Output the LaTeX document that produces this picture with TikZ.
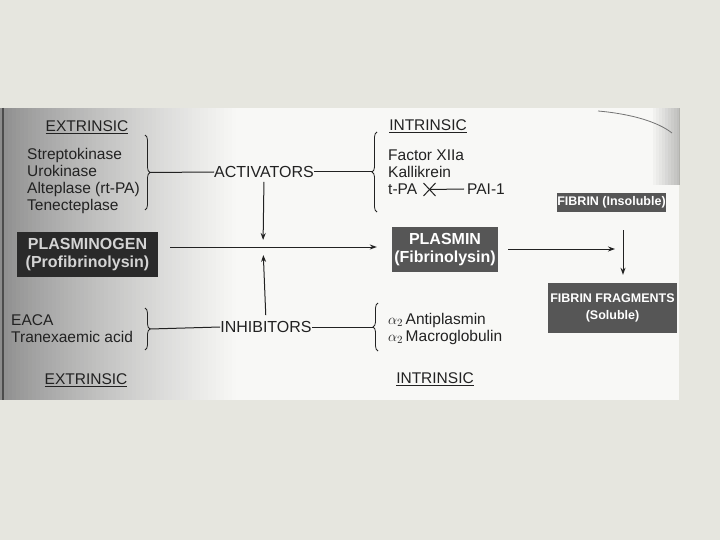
\documentclass[tikz,border=0pt]{standalone}
\usepackage{fontspec}
\setmainfont{Liberation Sans}
\usetikzlibrary{positioning, arrows.meta, calc, decorations.pathreplacing}
\definecolor{slidebg}{HTML}{E6E6DF}
\definecolor{paperw}{HTML}{F8F8F6}
\definecolor{photogray}{HTML}{8C8C8C}
\definecolor{inkgray}{HTML}{222222}
\definecolor{boxdark}{HTML}{2A2A2A}
\definecolor{boxgray}{HTML}{565656}
\definecolor{boxtext}{HTML}{D4D4D4}

\begin{document}
\begin{tikzpicture}[
    x=1pt, y=-1pt,
    every node/.style={font=\fontsize{15.5}{17}\selectfont, text=inkgray, inner sep=0pt},
    hdr/.style={font=\fontsize{15.5}{17}\selectfont},
    lbl/.style={font=\fontsize{16}{18}\selectfont},
    drug/.style={align=left, anchor=west},
    enzbox/.style={fill=#1, text=white, align=center, inner sep=0pt,
                   font=\bfseries\fontsize{16}{18}\selectfont},
    fibbox/.style={fill=boxgray, text=white, align=center, inner sep=0pt,
                   font=\bfseries\fontsize{12.5}{17}\selectfont},
    brc/.style={decorate, decoration={brace, amplitude=5pt}, line width=0.8pt, draw=inkgray},
    link/.style={draw=inkgray, line width=1pt},
    >={Stealth[length=7pt, width=5pt]},
  ]
  % slide and photo
  \useasboundingbox (0,0) rectangle (720,540);
  \fill[slidebg] (0,0) rectangle (720,540);
  \fill[paperw] (0,108) rectangle (679,400);
  \foreach \i in {0,...,59} {
    \pgfmathsetmacro\p{100*(\i/59)^0.8}
    \fill[paperw!\p!photogray] (4*\i,108) rectangle (4*\i+4.4,400);
  }
  \foreach \i in {0,...,9} {
    \pgfmathsetmacro\p{10*\i}
    \fill[black!\p!paperw, opacity=0.25] (650+3*\i,108) rectangle (653.3+3*\i,185);
  }
  \draw[black!70, line width=1.2pt] (3,108) -- (3,400);
  \draw[black!55, line width=0.8pt] (598,111) .. controls (632,114) and (658,122) .. (672,133);

  % activators
  \node[hdr] (extrA) at (87,127) {\underline{EXTRINSIC}};
  \node[drug] (extrL) at (27,181)
    {Streptokinase\\Urokinase\\Alteplase (rt-PA)\\Tenecteplase};
  \node[lbl] (actv) at (264,172) {ACTIVATORS};
  \node[hdr] (intrA) at (428,126) {\underline{INTRINSIC}};
  \node[drug] (fxii) at (388,155) {Factor XIIa};
  \node[drug] (kall) at (388,172) {Kallikrein};
  \node[drug] (tpa)  at (388,189) {t-PA};
  \node[drug] (pai)  at (467,189) {PAI-1};
  \coordinate (xm) at (429.5,189.5);
  \draw[link] ($(xm)+(-6,-6.5)$) -- ($(xm)+(6,6.5)$);
  \draw[link] ($(xm)+(-6,6.5)$) -- ($(xm)+(6,-6.5)$);
  \draw[link] (pai.west) ++(-3,0) -- (xm);

  \draw[brc] (145,135) -- (145,210);
  \draw[brc] (377,212) -- (377,132);
  \coordinate (bA) at (150,172.5);
  \coordinate (bB) at (372,172);
  \draw[link] (bA) -- (actv.west);
  \draw[link] (actv.east) -- (bB);

  % plasminogen to plasmin
  \node[enzbox=boxdark, text=boxtext, minimum width=141, minimum height=45] (plg) at (87.5,254.5)
    {PLASMINOGEN\\(Profibrinolysin)};
  \node[enzbox=boxgray, minimum width=106, minimum height=45] (plm) at (445,249.5)
    {PLASMIN\\(Fibrinolysin)};
  \coordinate (mid) at (263,247);
  \draw[link, ->] (plg.east |- mid) ++(12,0) -- ($(plm.west |- mid)+(-15,0)$);
  \draw[link, ->, shorten <=4pt, shorten >=7pt] (actv.south) -- (mid);

  % fibrin
  \node[fibbox, minimum width=109, minimum height=19] (fib) at (611.5,202.5) {FIBRIN (Insoluble)};
  \node[fibbox, minimum width=129, minimum height=50] (frag) at (612.5,308)
    {FIBRIN FRAGMENTS\\(Soluble)};
  \coordinate (fj) at (623,249);
  \draw[link, ->, shorten <=10pt, shorten >=8pt] (plm.east |- fj) -- (fj);
  \draw[link, ->, shorten <=18pt, shorten >=8pt] (fj |- fib.south) -- (fj |- frag.north);

  % inhibitors
  \node[lbl] (inhib) at (266,327) {INHIBITORS};
  \draw[link, ->, shorten <=6pt, shorten >=8pt] (inhib.north) -- (mid);
  \node[drug] (eaca) at (11,329) {EACA\\Tranexaemic acid};
  \node[drug] (alph) at (388,328.5)
    {$\alpha_2$\,Antiplasmin\\$\alpha_2$\,Macroglobulin};
  \draw[brc] (145,308) -- (145,350);
  \draw[brc] (378,351) -- (378,303);
  \coordinate (bC) at (150,329);
  \coordinate (bD) at (373,327);
  \draw[link] (bC) -- (inhib.west);
  \draw[link] (inhib.east) -- (bD);
  \node[hdr] (extrB) at (86,380) {\underline{EXTRINSIC}};
  \node[hdr] (intrB) at (435,379) {\underline{INTRINSIC}};
\end{tikzpicture}
\end{document}
